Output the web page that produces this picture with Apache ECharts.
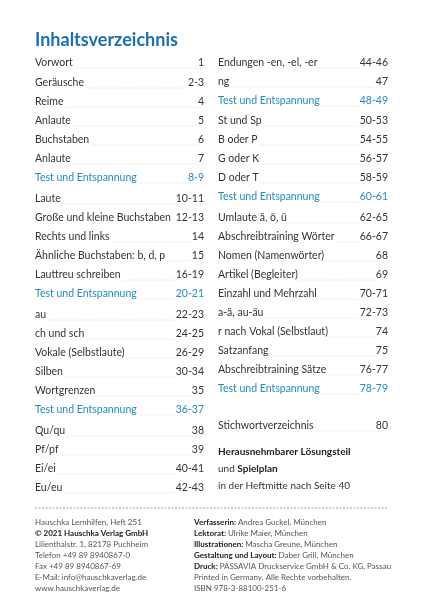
<!DOCTYPE html>
<html><head><meta charset="utf-8">
<script src="https://cdn.jsdelivr.net/npm/echarts@6/dist/echarts.min.js"></script>
<style>html,body{margin:0;padding:0;background:#fff}#toc{width:423px;height:600px}</style>
</head><body><div id="toc"></div>
<script>
var myChart = echarts.init(document.getElementById('toc'));

// left column: title, pages, row centre y
var leftTitles = ['Vorwort', 'Geräusche', 'Reime', 'Anlaute', 'Buchstaben', 'Anlaute', 'Test und Entspannung',
    'Laute', 'Große und kleine Buchstaben', 'Rechts und links', 'Ähnliche Buchstaben: b, d, p', 'Lauttreu schreiben', 'Test und Entspannung',
    'au', 'ch und sch', 'Vokale (Selbstlaute)', 'Silben', 'Wortgrenzen', 'Test und Entspannung',
    'Qu/qu', 'Pf/pf', 'Ei/ei', 'Eu/eu'];
var leftPages = ['1', '2-3', '4', '5', '6', '7', '8-9',
    '10-11', '12-13', '14', '15', '16-19', '20-21',
    '22-23', '24-25', '26-29', '30-34', '35', '36-37',
    '38', '39', '40-41', '42-43'];
var leftRows = [63, 83, 102, 121, 140, 159, 178, 199, 218, 237, 256, 275, 294, 315, 334, 353, 372, 391, 410, 431, 450, 469, 488];

var rightTitles = ['Endungen -en, -el, -er', 'ng', 'Test und Entspannung',
    'St und Sp', 'B oder P', 'G oder K', 'D oder T', 'Test und Entspannung',
    'Umlaute ä, ö, ü', 'Abschreibtraining Wörter', 'Nomen (Namenwörter)', 'Artikel (Begleiter)', 'Einzahl und Mehrzahl',
    'a-ä, au-äu', 'r nach Vokal (Selbstlaut)', 'Satzanfang', 'Abschreibtraining Sätze', 'Test und Entspannung',
    'Stichwortverzeichnis'];
var rightPages = ['44-46', '47', '48-49',
    '50-53', '54-55', '56-57', '58-59', '60-61',
    '62-65', '66-67', '68', '69', '70-71',
    '72-73', '74', '75', '76-77', '78-79',
    '80'];
var rightRows = [63, 82, 101, 121, 140, 159, 178, 197, 218, 237, 256, 275, 294, 313, 332, 351, 370, 389, 426];

var footLeft = ['Hauschka Lernhilfen, Heft 251', '© 2021 Hauschka Verlag GmbH', 'Lilienthalstr. 1, 82178 Puchheim',
    'Telefon +49 89 8940867-0', 'Fax +49 89 8940867-69', 'E-Mail: info@hauschkaverlag.de', 'www.hauschkaverlag.de'];
var footRightBold = ['Verfasserin: ', 'Lektorat: ', 'Illustrationen: ', 'Gestaltung und Layout: ', 'Druck: ', '', ''];
var footRight = ['Andrea Guckel, München', 'Ulrike Maier, München', 'Mascha Greune, München', 'Daber Grill, München',
    'PASSAVIA Druckservice GmbH & Co. KG, Passau', 'Printed in Germany. Alle Rechte vorbehalten.', 'ISBN 978-3-88100-251-6'];
var footRows = [522, 533, 544, 555, 566, 577, 588];

var FONT = 'Lato, sans-serif';
var BLUE = '#2588bf';
var g = [];

g.push({ type: 'text', x: 35, y: 40, style: { text: 'Inhaltsverzeichnis', fill: '#1b70ad', font: 'bold 18px ' + FONT, textVerticalAlign: 'middle' } });

function column(titles, pages, rows, x0, x1) {
    titles.forEach(function (t, i) {
        var y = rows[i];
        var col = t === 'Test und Entspannung' ? BLUE : '#333';
        g.push({ type: 'line', z: 1, shape: { x1: x0, y1: y + 5, x2: x1, y2: y + 5 },
            style: { stroke: '#d4d4d4', lineWidth: 0.8, lineDash: [1, 1.5] } });
        g.push({ type: 'text', x: x0, y: y, z: 2,
            style: { text: t, fill: col, font: '10.5px ' + FONT, textVerticalAlign: 'middle', backgroundColor: '#fff', padding: [0, 2, 0, 0] } });
        g.push({ type: 'text', x: x1, y: y, z: 2,
            style: { text: pages[i], fill: col, font: '10.5px ' + FONT, textAlign: 'right', textVerticalAlign: 'middle', backgroundColor: '#fff', padding: [0, 0, 0, 2] } });
    });
}
column(leftTitles, leftPages, leftRows, 35, 204);
column(rightTitles, rightPages, rightRows, 218, 388);

g.push({ type: 'text', x: 218, y: 443, style: { text: '{b|Herausnehmbarer Lösungsteil}\nund {b|Spielplan}\nin der Heftmitte nach Seite 40',
    fill: '#333', font: '10px ' + FONT, lineHeight: 17,
    rich: { b: { fontWeight: 'bold', fontSize: 10, fontFamily: 'Lato', fill: '#222' } } } });

g.push({ type: 'line', shape: { x1: 35, y1: 508, x2: 388, y2: 508 }, style: { stroke: '#888', lineWidth: 0.8, lineDash: [2, 1.5] } });

footLeft.forEach(function (t, i) {
    g.push({ type: 'text', x: 35, y: footRows[i], style: { text: t, fill: i === 1 ? '#222' : '#555',
        font: (i === 1 ? 'bold ' : '') + '8px ' + FONT, textVerticalAlign: 'middle' } });
});
footRight.forEach(function (t, i) {
    g.push({ type: 'text', x: 194, y: footRows[i], style: { text: (footRightBold[i] ? '{b|' + footRightBold[i] + '}' : '') + t,
        fill: '#555', font: '8px ' + FONT, textVerticalAlign: 'middle',
        rich: { b: { fontWeight: 'bold', fontSize: 8, fontFamily: 'Lato', fill: '#222' } } } });
});

myChart.setOption({ graphic: { elements: g } });
</script></body></html>
